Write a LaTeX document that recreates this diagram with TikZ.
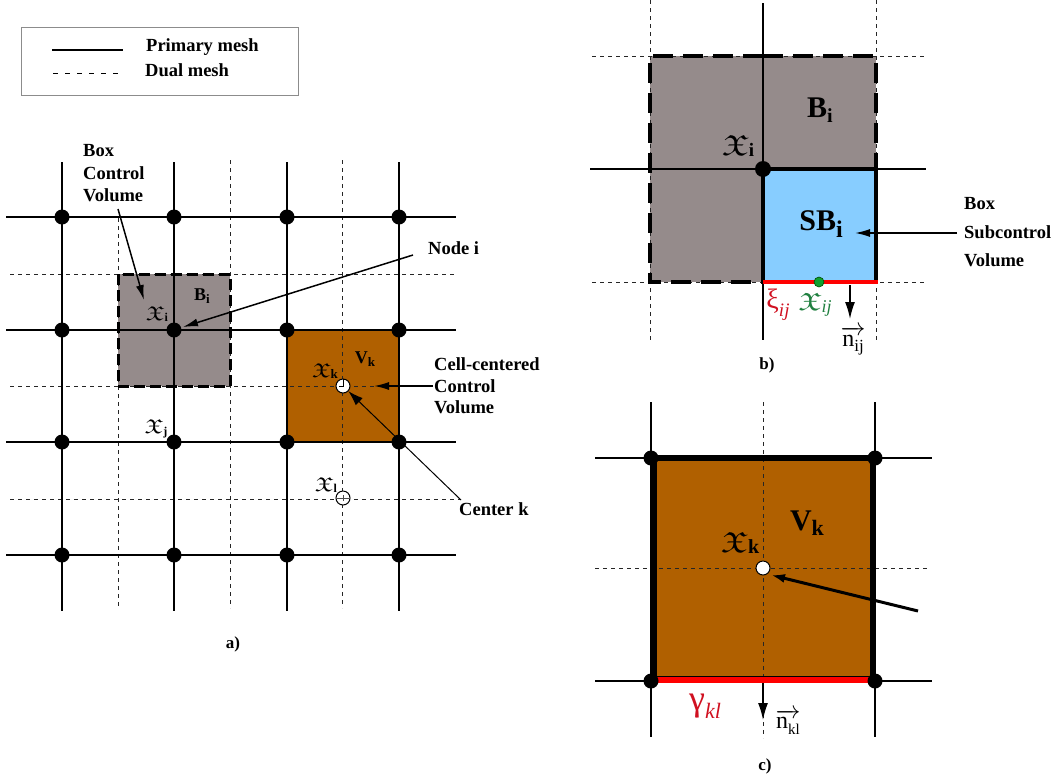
\documentclass[tikz,border=0pt]{standalone}
\usepackage{amssymb}
\usepackage{fontspec}
\setmainfont{Liberation Serif}
\usetikzlibrary{arrows.meta}
\definecolor{boxgray}{HTML}{958B8B}
\definecolor{cellbrown}{HTML}{B06000}
\definecolor{subblue}{HTML}{87CDFF}
\definecolor{redline}{HTML}{FF0000}
\definecolor{darkred}{HTML}{D01020}
\definecolor{greendot}{HTML}{10A030}
\definecolor{greentext}{HTML}{208040}
\newcommand{\fs}[1]{\fontsize{#1}{#1}\selectfont}
\newcommand{\frakx}[3]{\scalebox{1.3}[1]{\fs{#1}$\mathfrak{X}$}\raisebox{-.35ex}{\fs{#2}#3}}
\newcommand{\nvec}[3]{{\fs{#1}$\overrightarrow{\mbox{n\raisebox{-.5ex}{\fs{#2}#3}}}$}}
\tikzset{
  x=1pt,y=-1pt,
  primary/.style={line width=1.6pt,black},
  dual/.style={line width=0.8pt,black!85,dash pattern=on 4pt off 4pt},
  dot/.style={circle,fill=black,inner sep=0pt,minimum size=#1},
  hollow/.style={circle,draw=black,fill=white,line width=1pt,inner sep=0pt,minimum size=#1},
  lbl/.style={font=\fs{18.5}\bfseries,inner sep=0pt,anchor=west},
  sym/.style={inner sep=0pt},
  ptr/.style={line width=1.5pt,-{Latex[length=15pt,width=8pt]}},
}
\begin{document}
\begin{tikzpicture}
\useasboundingbox (0,0) rectangle (1057,780);

% legend
\draw[line width=1pt,black!45] (21,27) rectangle (298,95);
\coordinate (l1a) at (52,50); \coordinate (l1b) at (123,50);
\coordinate (l2a) at (53,73); \coordinate (l2b) at (121,73);
\draw[line width=2pt] (l1a) -- (l1b);
\draw[line width=0.8pt,dash pattern=on 5pt off 7pt] (l2a) -- (l2b);
\node[lbl] (legp) at (146,47) {Primary mesh};
\node[lbl] (legd) at (145,70) {Dual mesh};

% ---------- panel a
\fill[boxgray] (118,274) rectangle (230,386);
\fill[cellbrown] (287,330) rectangle (399,442);
\draw[dual] (10,274) -- (456,274);
\draw[dual] (10,386) -- (432,386);
\draw[dual] (10,499) -- (460,499);
\draw[dual] (118,218) -- (118,608);
\foreach \x in {230,342} \draw[dual] (\x,160) -- (\x,608);
\foreach \y in {217,330,442,555} \draw[primary] (6,\y) -- (456,\y);
\foreach \x in {62,174,287,399} \draw[primary] (\x,162) -- (\x,611);
\draw[line width=2.6pt] (174,442) -- (174,555);
\draw[line width=3pt,dash pattern=on 11pt off 5pt] (118,274) rectangle (230,386);
\draw[line width=2.8pt] (287,330) rectangle (399,442);
\foreach \x/\cx in {62/a,174/b,287/c,399/d}
  \foreach \y/\cy in {217/1,330/2,442/3,555/4}
    \node[dot=15pt] (\cx\cy) at (\x,\y) {};
\node[hollow=14pt] (ck) at (343,386) {};
\node[hollow=14pt] (cl) at (343,498) {};
\draw[line width=.6pt] (343,379) -- (343,386) -- (339,386);
\draw[line width=.5pt,black!70] (337,498) -- (349,498) (343,495) -- (343,501);

\node[sym] at (157,314) {\frakx{20}{12}{\bfseries i}};
\node[sym] at (202,296) {\fs{18}\bfseries B\raisebox{-.35ex}{\fs{13}i}};
\node[sym] at (325,371) {\frakx{20}{13}{\bfseries k}};
\node[sym] at (365,359) {\fs{18}\bfseries V\raisebox{-.35ex}{\fs{13}k}};
\node[sym] at (156,429) {\frakx{20}{12}{\bfseries j}};
\node[sym] at (326,485) {\frakx{20}{12}{\bfseries l}};

\node[lbl] (boxa) at (83,151) {Box};
\node[lbl] (ctla) at (83,173) {Control};
\node[lbl] (vola) at (83,195) {Volume};
\coordinate (boxtip) at (144,300);
\coordinate (boxtail) at (118,209);
\draw[ptr] (boxtail) -- (boxtip);

\node[lbl] (nodei) at (428,248) {Node i};
\coordinate (nitail) at (413,255);
\coordinate (nitip) at (183,327);
\draw[ptr] (nitail) -- (nitip);

\node[lbl] (cc1) at (434,364) {Cell-centered};
\node[lbl] (cc2) at (434,386) {Control};
\node[lbl] (cc3) at (434,407) {Volume};
\coordinate (cctip) at (374,386);
\coordinate (cctail) at (433,386);
\draw[ptr] (cctail) -- (cctip);

\node[lbl] (cenk) at (459,509) {Center k};
\coordinate (cenktail) at (461,500);
\draw[line width=1pt,-{Latex[length=15pt,width=10pt]}] (cenktail) -- (ck);

\node[font=\fs{17}\bfseries,sym] (laba) at (233,644) {a)};

% ---------- panel b
\fill[boxgray] (650,56) rectangle (876,282);
\fill[subblue] (763,169) rectangle (876,282);
\foreach \x in {650,876} \draw[dual] (\x,0) -- (\x,340);
\foreach \y in {56,282} \draw[dual] (592,\y) -- (927,\y);
\draw[primary] (763,3) -- (763,340);
\draw[primary] (590,169) -- (926,169);
\draw[line width=4pt,dash pattern=on 20pt off 10pt] (763,56) -- (650,56) -- (650,282) -- (763,282);
\draw[line width=4pt,dash pattern=on 20pt off 10pt] (763,56) -- (876,56) -- (876,169);
\draw[line width=3.2pt] (876,282) -- (876,169) -- (763,169) -- (763,282);
\draw[line width=3.6pt,redline] (763,282) -- (878,282);
\node[dot=16pt] (xi) at (763,169) {};
\node[circle,fill=greendot,draw=black!70!green,line width=.6pt,inner sep=0pt,minimum size=10pt] (xij) at (819,282) {};

\node[sym] at (738,146) {\frakx{29}{19}{\bfseries i}};
\node[sym] at (820,110) {\fs{30}\bfseries B\raisebox{-.35ex}{\fs{20}i}};
\node[sym] at (821,224) {\fs{30}\bfseries SB\raisebox{-.55ex}{\fs{24}i}};
\node[sym,text=darkred] at (778,305) {\fs{28}ξ\raisebox{-.6ex}{\fs{19}\itshape ij}};
\node[sym,text=greentext] at (815,305) {\frakx{25}{18}{\itshape ij}};

\node[lbl] (bs1) at (964,204) {Box};
\node[lbl] (bs2) at (964,232) {Subcontrol};
\node[lbl] (bs3) at (964,260) {Volume};
\coordinate (bstip) at (855,233);
\coordinate (bsstart) at (957,233);
\draw[ptr] (bsstart) -- (bstip);

\coordinate (na) at (850,285); \coordinate (nb) at (850,319);
\draw[line width=1.5pt,-{Latex[length=17pt,width=10pt]}] (na) -- (nb);
\node[sym] at (853,341) {\nvec{24}{17}{ij}};
\node[font=\fs{17}\bfseries,sym] (labb) at (767,365) {b)};

% ---------- panel c
\fill[cellbrown] (651,458) rectangle (875,681);
\draw[dual,line width=.7pt] (595,568) -- (930,568);
\draw[dual,line width=.7pt] (763,402) -- (763,738);
\foreach \y in {458,681} \draw[primary] (595,\y) -- (932,\y);
\foreach \x in {651,875} \draw[primary] (\x,402) -- (\x,737);
\draw[line width=6.5pt] (653,458) -- (873,458);
\draw[line width=6.5pt] (653.5,458) -- (653.5,681);
\draw[line width=6.5pt] (873,458) -- (873,681);
\draw[line width=5.5pt,redline] (652,680) -- (875,680);
\draw[line width=1.2pt] (657,676.5) -- (870,676.5);
\foreach \x/\n in {651/e,875/f} \foreach \y/\m in {458/5,681/6}
  \node[dot=15pt] (\n\m) at (\x,\y) {};
\node[hollow=14pt] (cc) at (763,568) {};

\node[sym] at (740,543) {\frakx{29}{20}{\bfseries k}};
\node[sym] at (807,523) {\fs{30}\bfseries V\raisebox{-.35ex}{\fs{22}k}};
\coordinate (ctail) at (918,611);
\coordinate (ctip) at (771,575);
\draw[line width=3pt,-{Latex[length=14pt,width=9pt]}] (ctail) -- (ctip);
\coordinate (nca) at (763,683); \coordinate (ncb) at (763,720);
\draw[line width=1.5pt,-{Latex[length=17pt,width=10pt]}] (nca) -- (ncb);
\node[sym,text=darkred] at (705,706) {\fs{36}γ\raisebox{-.5ex}{\fs{22}\itshape kl}};
\node[sym] at (788,722) {\nvec{24}{15}{kl}};
\node[font=\fs{17}\bfseries,sym] (labc) at (765,766) {c)};
\end{tikzpicture}
\end{document}
